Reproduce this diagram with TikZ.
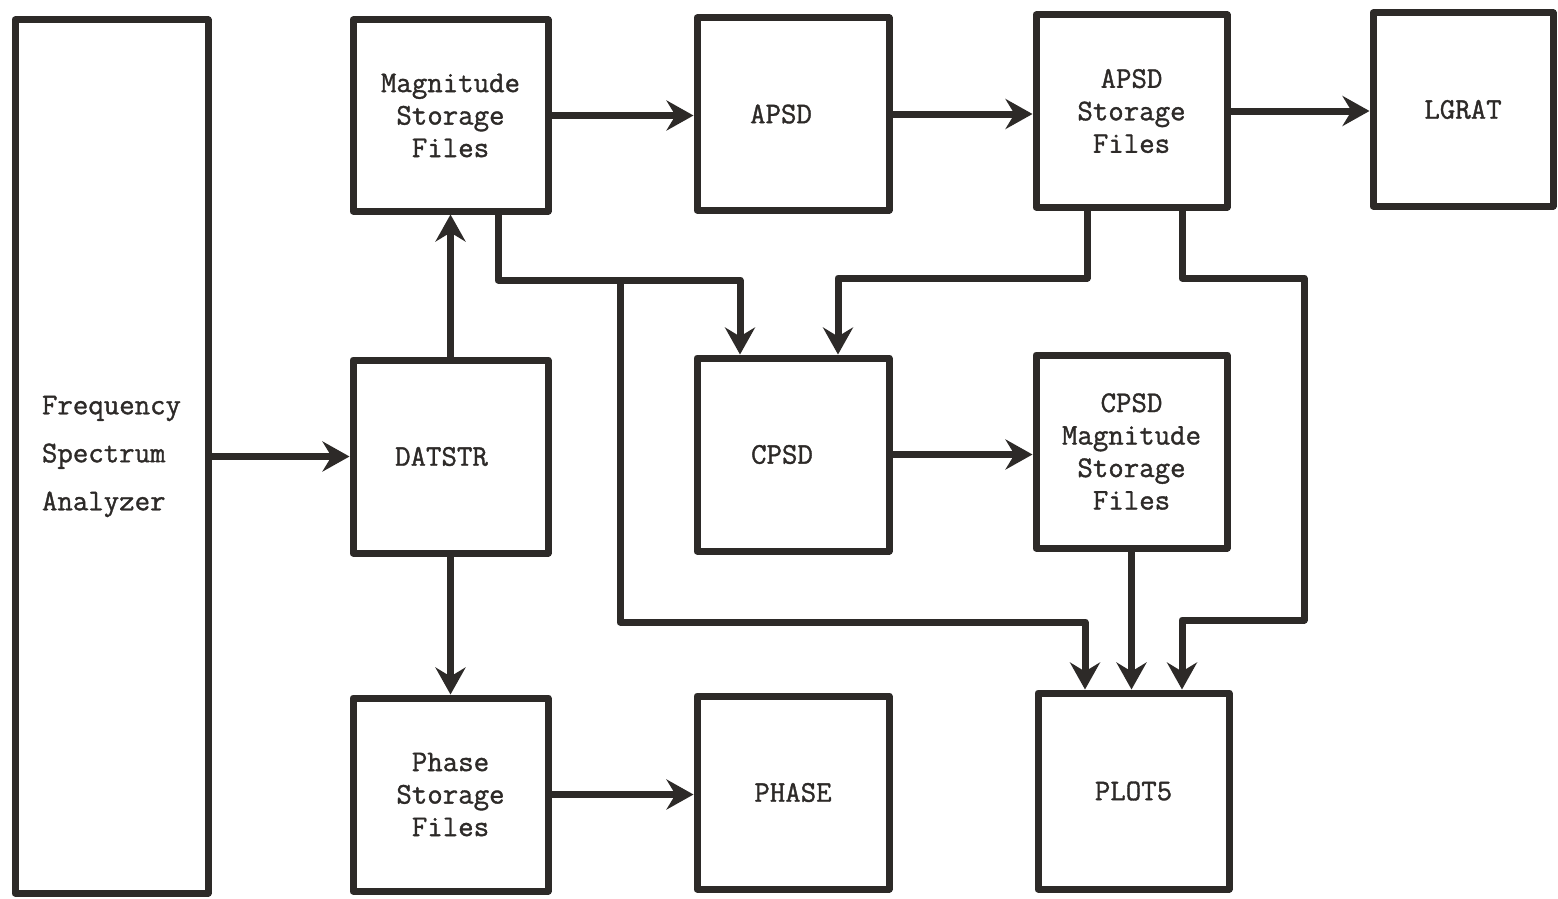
\documentclass[tikz,border=0pt]{standalone}
\usepackage{fontspec}
\setmonofont{Latin Modern Mono}[BoldFont={Latin Modern Mono}, BoldFeatures={FakeBold=1.2}]
\usetikzlibrary{arrows.meta}
\definecolor{ink}{RGB}{45,42,40}
\begin{document}
\begin{tikzpicture}[x=1pt,y=-1pt,
  box/.style={draw=ink, line width=7pt, rectangle, inner sep=0pt, align=center,
    font=\ttfamily\bfseries\fontsize{30}{32.5}\selectfont, text=ink, line join=round},
  arr/.style={draw=ink, line width=7pt, line join=round,
    -{Stealth[length=27pt,width=30pt,inset=9pt]}}]
\useasboundingbox (0,0) rectangle (1558,899);
\fill[white] (0,0) rectangle (1558,899);

\node[box, minimum width=193pt, minimum height=873pt, align=left,
  font=\ttfamily\bfseries\fontsize{30}{48}\selectfont] (fsa) at (111.5,456.5)
  {Frequency\\Spectrum\\Analyzer};
\node[box, minimum width=195pt, minimum height=191pt] (mag) at (450.5,115.5) {Magnitude\\Storage\\Files};
\node[box, minimum width=192pt, minimum height=192pt] (apsd) at (793,114) {APSD\hspace*{24pt}};
\node[box, minimum width=191pt, minimum height=192pt] (apsdsf) at (1131.5,111) {APSD\\Storage\\Files};
\node[box, minimum width=180pt, minimum height=193pt] (lgrat) at (1463,109.5) {LGRAT};
\node[box, minimum width=195pt, minimum height=193pt] (datstr) at (450.5,456.5) {DATSTR\hspace*{18pt}};
\node[box, minimum width=192pt, minimum height=193pt] (cpsd) at (793,454.5) {CPSD\hspace*{22pt}};
\node[box, minimum width=191pt, minimum height=193pt] (cpsdm) at (1131.5,451.5) {CPSD\\Magnitude\\Storage\\Files};
\node[box, minimum width=195pt, minimum height=193pt] (phasesf) at (450.5,794.5) {Phase\\Storage\\Files};
\node[box, minimum width=192pt, minimum height=193pt] (phase) at (793,792.5) {PHASE};
\node[box, minimum width=191pt, minimum height=196pt] (plot5) at (1133.5,791) {PLOT5};

% straight connectors
\draw[arr] (fsa.east |- datstr.west) -- (datstr.west);
\draw[arr] (datstr.north) -- (mag.south);
\draw[arr] (datstr.south) -- (phasesf.north);
\draw[arr] (mag.east) -- (apsd.west |- mag.east);
\draw[arr] (apsd.east) -- (apsdsf.west |- apsd.east);
\draw[arr] (apsdsf.east) -- (lgrat.west |- apsdsf.east);
\draw[arr] (phasesf.east) -- (phase.west |- phasesf.east);
\draw[arr] (cpsd.east) -- (cpsdm.west |- cpsd.east);
\draw[arr] (cpsdm.south) -- (cpsdm.south |- plot5.north);

% routed connectors
\coordinate (m1) at (498,280);
\coordinate (c1) at (740,280);
\coordinate (j1) at (620,280);
\coordinate (j2) at (620,622);
\coordinate (p1) at (1085,622);
\coordinate (a1) at (1087,278);
\coordinate (c2) at (838,278);
\coordinate (a2) at (1182,278);
\coordinate (r1) at (1304,278);
\coordinate (r2) at (1304,620);
\coordinate (p3) at (1182,620);

\draw[arr] (mag.south -| m1) -- (m1) -- (c1) -- (c1 |- cpsd.north);
\draw[arr] (j1) -- (j2) -- (p1) -- (p1 |- plot5.north);
\draw[arr] (apsdsf.south -| a1) -- (a1) -- (c2) -- (c2 |- cpsd.north);
\draw[arr] (apsdsf.south -| a2) -- (a2) -- (r1) -- (r2) -- (p3) -- (p3 |- plot5.north);
\end{tikzpicture}
\end{document}
